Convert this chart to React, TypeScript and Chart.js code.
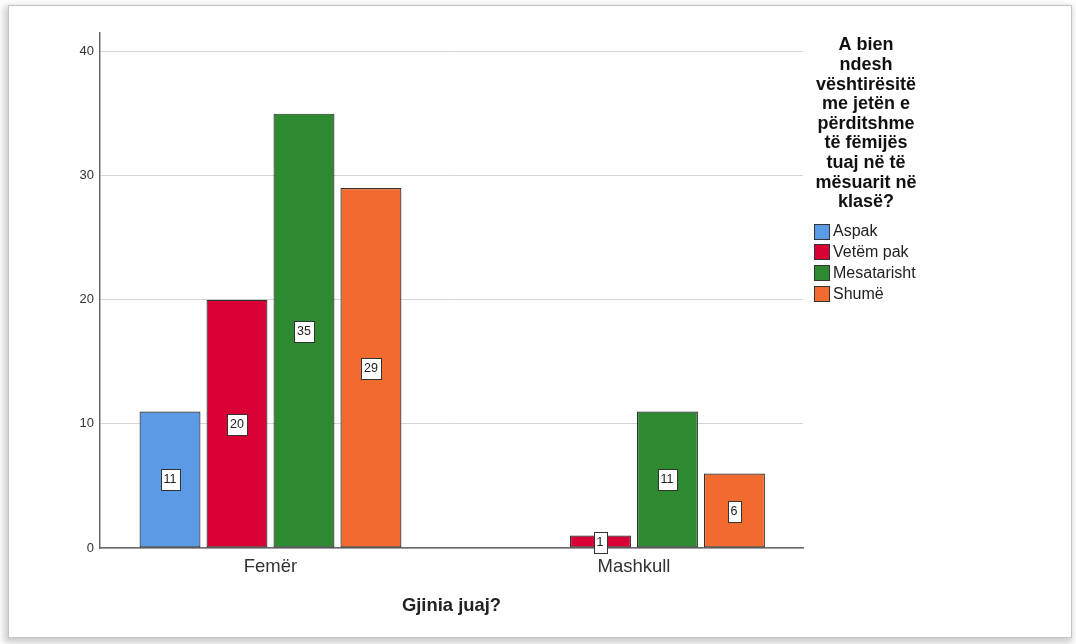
import React, { useEffect, useRef } from "react";
import { Chart, registerables } from "chart.js";

Chart.register(...registerables);

const categories = ["Femër", "Mashkull"];
const seriesNames = ["Aspak", "Vetëm pak", "Mesatarisht", "Shumë"];
const aspak = [11, 0];
const vetemPak = [20, 1];
const mesatarisht = [35, 11];
const shume = [29, 6];
const seriesColors = ["#5B9BE6", "#D90036", "#2E8A30", "#F26B2E"];
const yTicks = [0, 10, 20, 30, 40];
const legendTitle = [
  "A bien",
  "ndesh",
  "vështirësitë",
  "me jetën e",
  "përditshme",
  "të fëmijës",
  "tuaj në të",
  "mësuarit në",
  "klasë?",
];
const xTitle = "Gjinia juaj?";

const FONT = "'Liberation Sans', Arial, sans-serif";

const valueLabels = {
  id: "valueLabels",
  afterDatasetsDraw(chart: any) {
    const ctx = chart.ctx;
    ctx.save();
    ctx.font = `12.5px ${FONT}`;
    ctx.textAlign = "center";
    ctx.textBaseline = "middle";
    chart.data.datasets.forEach((ds: any, di: number) => {
      const meta = chart.getDatasetMeta(di);
      meta.data.forEach((el: any, i: number) => {
        const v = ds.data[i].y;
        if (!v) return;
        const txt = String(v);
        const w = Math.round(ctx.measureText(txt).width + 6);
        const h = 21;
        const cx = Math.round(el.x);
        const cy = Math.round((el.y + el.base) / 2);
        const x0 = Math.round(cx - w / 2) + 0.5;
        const y0 = Math.round(cy - h / 2) + 0.5;
        ctx.fillStyle = "#ffffff";
        ctx.fillRect(x0, y0, w, h);
        ctx.strokeStyle = "#333333";
        ctx.lineWidth = 1;
        ctx.strokeRect(x0, y0, w, h);
        ctx.fillStyle = "#222222";
        ctx.fillText(txt, cx, cy + 1);
      });
    });
    ctx.restore();
  },
};

const customLegend = {
  id: "customLegend",
  afterDraw(chart: any) {
    const ctx = chart.ctx;
    ctx.save();
    ctx.fillStyle = "#111111";
    ctx.font = `bold 18px ${FONT}`;
    ctx.textAlign = "center";
    ctx.textBaseline = "middle";
    legendTitle.forEach((line, i) => {
      ctx.fillText(line, 866, 45.5 + i * 19.6);
    });
    ctx.font = `16px ${FONT}`;
    ctx.textAlign = "left";
    seriesNames.forEach((name, i) => {
      const cy = 231 + i * 20.7;
      ctx.fillStyle = seriesColors[i];
      ctx.fillRect(814.5, Math.round(cy - 7.5) + 0.5, 15, 15);
      ctx.strokeStyle = "#333333";
      ctx.lineWidth = 1;
      ctx.strokeRect(814.5, Math.round(cy - 7.5) + 0.5, 15, 15);
      ctx.fillStyle = "#222222";
      ctx.fillText(name, 833, cy + 1);
    });
    ctx.restore();
  },
};

export default function App() {
  const ref = useRef<HTMLCanvasElement>(null);
  useEffect(() => {
    const series = [aspak, vetemPak, mesatarisht, shume];
    const chart = new Chart(ref.current as HTMLCanvasElement, {
      type: "bar",
      data: {
        datasets: series.map((vals, si) => ({
          label: seriesNames[si],
          data: vals.map((v, i) => ({ x: i, y: v })),
          backgroundColor: seriesColors[si],
          borderColor: "#2e2e2e",
          borderWidth: (c: any) => (c.raw && c.raw.y ? 1.2 : 0),
          borderSkipped: false,
          categoryPercentage: 0.737,
          barPercentage: 0.91,
        })),
      },
      options: {
        animation: false,
        responsive: false,
        layout: { padding: { left: 0, right: 273, top: 33, bottom: 0 } },
        plugins: {
          legend: { display: false },
          tooltip: { enabled: false },
        },
        scales: {
          x: {
            type: "linear",
            min: -0.469,
            max: 1.465,
            offset: false,
            afterBuildTicks: (s: any) => {
              s.ticks = categories.map((_, i) => ({ value: i }));
            },
            afterFit: (s: any) => {
              s.height = 96;
            },
            grid: { display: false, drawTicks: false },
            border: { display: true, color: "#6a6a6a", width: 1.5 },
            ticks: {
              padding: 8,
              color: "#333333",
              font: { family: FONT, size: 18.5 },
              callback: (v: any) => categories[v] ?? "",
              maxRotation: 0,
              autoSkip: false,
            },
            title: {
              display: true,
              text: xTitle,
              color: "#222222",
              font: { family: FONT, size: 18.4, weight: "bold" },
              padding: { top: 0, bottom: 27 },
            },
          },
          y: {
            min: 0,
            max: 41.5,
            afterBuildTicks: (s: any) => {
              s.ticks = yTicks.map((v) => ({ value: v }));
            },
            afterFit: (s: any) => {
              s.width = 100;
            },
            grid: { color: "#d4d4d4", drawTicks: false, lineWidth: 1 },
            border: { display: true, color: "#6a6a6a", width: 1.5 },
            ticks: {
              padding: 6,
              color: "#333333",
              font: { family: FONT, size: 13 },
            },
          },
        },
      } as any,
      plugins: [valueLabels, customLegend],
    });
    return () => chart.destroy();
  }, []);

  return (
    <div style={{ position: "fixed", left: 0, top: 0, width: 1076, height: 644, background: "#ffffff", overflow: "hidden" }}>
      <div
        style={{
          position: "absolute",
          left: 8,
          top: 5,
          width: 1062,
          height: 631,
          border: "1px solid #c4c4c4",
          boxShadow: "-2px 3px 7px 2px rgba(0,0,0,0.2)",
          background: "#ffffff",
        }}
      />
      <canvas
        ref={ref}
        width={1076}
        height={644}
        style={{ position: "absolute", left: 0, top: 0, width: 1076, height: 644 }}
      />
    </div>
  );
}
